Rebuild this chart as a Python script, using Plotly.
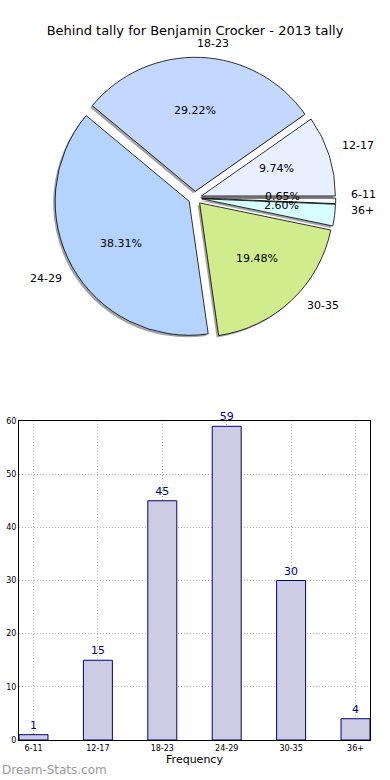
import math
import plotly.graph_objects as go

# ---- data ----
categories = ["6-11", "12-17", "18-23", "24-29", "30-35", "36+"]
counts = [1, 15, 45, 59, 30, 4]
slice_colors = ["#fafcff", "#e8f0ff", "#c4d8ff", "#b4d4ff", "#d0ec8c", "#d8ffff"]
title_text = "Behind tally for Benjamin Crocker - 2013 tally"
y_ticks = [0, 10, 20, 30, 40, 50, 60]

W, H = 390, 780
FONT = "DejaVu Sans"

# ---- pie geometry (pixels) ----
cx, cy = 195, 198
R = 134
PULL = 0.05
D = 2 * R * (1 + PULL)


def dom(cxp, cyp):
    return dict(x=[(cxp - D / 2) / W, (cxp + D / 2) / W],
                y=[1 - (cyp + D / 2) / H, 1 - (cyp - D / 2) / H])


total = sum(counts)
pulls = [PULL] * len(counts)

fig = go.Figure()

# shadow
fig.add_trace(go.Pie(
    labels=categories, values=counts, sort=False, direction="counterclockwise",
    rotation=90, pull=pulls, textinfo="none", hoverinfo="skip",
    marker=dict(colors=["rgba(90,90,90,0.55)"] * len(counts), line=dict(width=0)),
    domain=dom(cx - 2, cy + 2), showlegend=False,
))
# main pie
fig.add_trace(go.Pie(
    labels=categories, values=counts, sort=False, direction="counterclockwise",
    rotation=90, pull=pulls, textinfo="none",
    marker=dict(colors=slice_colors, line=dict(color="black", width=0.8)),
    domain=dom(cx, cy), showlegend=False,
))

annotations = []
cum = 0.0
for lab, v in zip(categories, counts):
    frac = v / total
    mid = (cum + frac / 2) * 2 * math.pi
    cum += frac
    c, s = math.cos(mid), math.sin(mid)
    ox, oy = cx + PULL * R * c, cy - PULL * R * s
    # percentage
    px, py = ox + 0.6 * R * c, oy - 0.6 * R * s
    annotations.append(dict(x=px / W, y=1 - py / H, xref="paper", yref="paper",
                            text=f"{frac * 100:.2f}%", showarrow=False,
                            xanchor="center", yanchor="middle",
                            font=dict(family=FONT, size=11, color="black")))
    # label
    lx, ly = ox + 1.1 * R * c, oy - 1.1 * R * s
    annotations.append(dict(x=lx / W, y=1 - ly / H, xref="paper", yref="paper",
                            text=lab, showarrow=False,
                            xanchor="left" if c >= -1e-9 else "right", yanchor="middle",
                            font=dict(family=FONT, size=11, color="black")))

# ---- bar chart ----
fig.add_trace(go.Bar(
    x=categories, y=counts, width=0.45,
    marker=dict(color="#ccccE4", line=dict(color="#000080", width=1)),
    text=[str(v) for v in counts], textposition="outside",
    textfont=dict(family=FONT, size=11, color="#000080"),
    cliponaxis=False, constraintext="none",
    xaxis="x", yaxis="y", showlegend=False,
))

annotations.append(dict(x=0, y=1 - 770 / H, xref="paper", yref="paper",
                        text="Dream-Stats.com", showarrow=False,
                        xanchor="left", yanchor="middle",
                        font=dict(family=FONT, size=12, color="#9a9a9a")))

GRID = dict(showgrid=True, gridcolor="#b8b8b8", griddash="1px,2px", gridwidth=1)

fig.update_layout(
    width=W, height=H, margin=dict(l=0, r=0, t=0, b=0, autoexpand=False),
    paper_bgcolor="white", plot_bgcolor="white",
    title=dict(text=title_text, x=0.5, xanchor="center", y=1 - 30 / H, yanchor="middle",
               font=dict(family=FONT, size=13, color="black")),
    font=dict(family=FONT),
    annotations=annotations,
    bargap=0.55,
    xaxis=dict(domain=[19 / W, 370 / W], range=[-0.225, 5.225], type="category",
               showline=True, linecolor="black", linewidth=1, mirror=True,
               ticks="", tickfont=dict(family=FONT, size=8, color="black"),
               title=dict(text="Frequency", font=dict(family=FONT, size=11, color="black"),
                          standoff=2),
               anchor="y", fixedrange=True, zeroline=False, automargin=False, **GRID),
    yaxis=dict(domain=[1 - 740 / H, 1 - 421 / H], range=[0, 60],
               tickvals=y_ticks,
               showline=True, linecolor="black", linewidth=1, mirror=True,
               ticks="", tickfont=dict(family=FONT, size=8, color="black"),
               anchor="x", fixedrange=True, zeroline=False, automargin=False, **GRID),
)

fig.write_html("out.html", config={"displayModeBar": False},
               post_script="document.body.style.margin='0';document.body.style.overflow='hidden';")
